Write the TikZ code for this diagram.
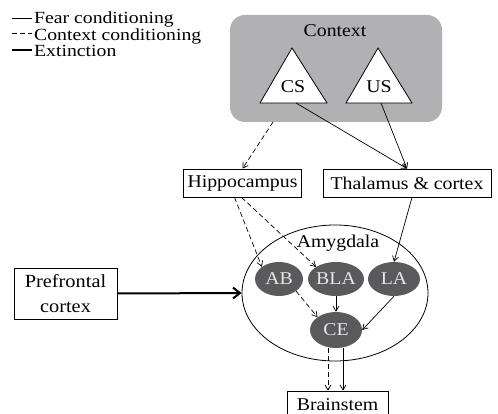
\documentclass[tikz,border=0pt]{standalone}
\usepackage{fontspec}
\setmainfont[FakeStretch=1.1]{Liberation Serif}
\newfontfamily\legfont[FakeStretch=1.16]{Liberation Serif}
\usetikzlibrary{arrows.meta,shapes.geometric}
\definecolor{ctxgray}{HTML}{B1B1B4}
\definecolor{nucgray}{HTML}{5A5A5C}
\definecolor{nuctext}{HTML}{E6E6E6}
\begin{document}
\begin{tikzpicture}[x=1pt,y=-1pt,
  every node/.style={font=\fontsize{18}{20}\selectfont, inner sep=0pt},
  legend/.style={anchor=base west, font=\legfont\fontsize{17}{17}\selectfont},
  box/.style={draw, line width=0.8pt, minimum height=28pt, inner xsep=4pt},
  nuc/.style={ellipse, fill=nucgray, text=nuctext, minimum width=50pt, minimum height=34pt},
  tri/.style={fill=white, draw, line width=0.8pt},
  conn/.style={line width=0.7pt, -{Straight Barb[length=5pt,width=6pt]}},
  ctxline/.style={line width=0.7pt, dash pattern=on 5pt off 3pt},
  thick arrow/.style={line width=2pt, -{Straight Barb[length=7pt,width=11pt,line width=2pt]}}
]
\useasboundingbox (0,0) rectangle (498,414);
% legend
\draw[line width=0.7pt] (12,18) -- (32,18);
\node[legend] (lg1) at (34,24) {Fear conditioning};
\draw[line width=0.7pt, dash pattern=on 5pt off 3pt] (12,33.5) -- (32,33.5);
\node[legend] (lg2) at (34,40.5) {Context conditioning};
\draw[line width=2pt] (12,50) -- (32,50);
\node[legend] (lg3) at (34,57) {Extinction};
% context
\fill[ctxgray, rounded corners=15pt] (230,15) rectangle (442,122);
\coordinate (ctxbot) at (273,122);
\node (ctx) at (335,31) {Context};
\draw[tri] (292,48) -- (327,103) -- (260,103) -- cycle;
\node (cs) at (293,87) {CS};
\draw[tri] (378,48) -- (412,103) -- (346,103) -- cycle;
\node (us) at (379,87) {US};
\coordinate (csb) at (296,103);
\coordinate (usb) at (381,103);
% boxes
\node[box, minimum width=113pt] (hip) at (242.5,183) {Hippocampus};
\node[box, minimum width=168pt] (tha) at (407,183) {Thalamus \& cortex};
\node[box, minimum width=103pt, minimum height=51pt, align=center, font=\fontsize{18.5}{25}\selectfont] (pfc) at (65.5,293.5) {Prefrontal\\cortex};
\node[box, minimum width=101pt, minimum height=28pt] (bs) at (337.5,405) {Brainstem};
% amygdala
\node[ellipse, draw, line width=0.8pt, minimum width=186pt, minimum height=136pt] (amy) at (335,293) {};
\node (amyl) at (338,243) {Amygdala};
\node[nuc, minimum width=48pt] (ab) at (279,279) {AB};
\node[nuc, minimum width=52pt] (bla) at (336,279) {BLA};
\node[nuc, minimum width=52pt] (la) at (394,279) {LA};
\node[nuc, minimum width=52pt, minimum height=36pt] (ce) at (336,330) {CE};
% connectors
\draw[conn] (csb) -- (tha.north);
\draw[conn] (usb) -- (tha.north);
\draw[conn, ctxline] (ctxbot) -- (hip.north);
\draw[conn, ctxline] ([xshift=-8pt]hip.south) -- (ab.north west);
\draw[conn, ctxline] ([xshift=-1pt]hip.south) -- (bla.north west);
\draw[conn] ([xshift=5pt]tha.south) -- (la.north);
\draw[conn] (bla.south) -- (ce.north);
\draw[conn, ctxline] (ab.south east) -- (ce.north west);
\draw[conn] (la.south) -- (ce.east);
\draw[conn, ctxline] ([xshift=-8pt]ce.south) -- ([xshift=-9.5pt]bs.north);
\draw[conn] ([xshift=7pt]ce.south) -- ([xshift=5.5pt]bs.north);
\draw[thick arrow] (pfc.east) -- (amy.west);
\end{tikzpicture}
\end{document}
